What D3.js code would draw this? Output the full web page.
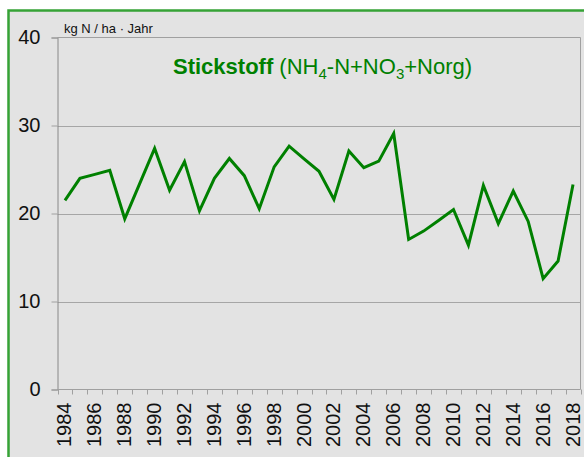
<!DOCTYPE html>
<html>
<head>
<meta charset="utf-8">
<script src="https://cdn.jsdelivr.net/npm/d3@7"></script>
<style>
  html, body { margin: 0; padding: 0; background: #ffffff; }
  svg { display: block; font-family: "Liberation Sans", Arial, sans-serif; }
</style>
</head>
<body>
<svg id="chart" width="584" height="457"></svg>
<script>
// Annual nitrogen deposition, kg N per hectare and year
const years = [1984, 1985, 1986, 1987, 1988, 1989, 1990, 1991, 1992, 1993,
               1994, 1995, 1996, 1997, 1998, 1999, 2000, 2001, 2002, 2003,
               2004, 2005, 2006, 2007, 2008, 2009, 2010, 2011, 2012, 2013,
               2014, 2015, 2016, 2017, 2018];
const nitrogen = [21.5, 24.0, 24.45, 24.9, 19.4, 23.4, 27.4, 22.65, 25.9, 20.3,
                  24.0, 26.25, 24.3, 20.55, 25.3, 27.65, 26.2, 24.8, 21.6, 27.1,
                  25.2, 25.95, 29.1, 17.05, 18.0, 19.2, 20.45, 16.4, 23.2, 18.85,
                  22.55, 19.1, 12.6, 14.6, 23.3];
const yTicks = [0, 10, 20, 30, 40];
const xLabelYears = [1984, 1986, 1988, 1990, 1992, 1994, 1996, 1998, 2000, 2002,
                     2004, 2006, 2008, 2010, 2012, 2014, 2016, 2018];

const svg = d3.select("#chart");
const W = 584, H = 457;
const plot = { left: 57.5, top: 37.5, right: 580.5, bottom: 389.5 };
const green = "#008000";

// Framed panel
svg.append("rect")
  .attr("x", 8.5).attr("y", 10.5)
  .attr("width", 600).attr("height", 480)
  .attr("fill", "#e3e3e3")
  .attr("stroke", "#36a336").attr("stroke-width", 2.5);

const x = d3.scaleBand().domain(years).range([plot.left, plot.right]).padding(0);
const y = d3.scaleLinear().domain([0, 40]).range([plot.bottom, plot.top]);

// Horizontal grid lines
svg.append("g").selectAll("line")
  .data(yTicks.filter(t => t > 0 && t < 40))
  .join("line")
  .attr("x1", plot.left).attr("x2", plot.right)
  .attr("y1", d => Math.round(y(d)) + 0.5).attr("y2", d => Math.round(y(d)) + 0.5)
  .attr("stroke", "#a6a6a6").attr("stroke-width", 1);

// Plot frame (top, right)
svg.append("path")
  .attr("d", `M${plot.left},${plot.top}H${plot.right}V${plot.bottom}`)
  .attr("fill", "none").attr("stroke", "#a0a0a0").attr("stroke-width", 1);

// Y axis
const yAxis = d3.axisLeft(y).tickValues(yTicks).tickSize(6).tickPadding(11);
const gy = svg.append("g").attr("transform", `translate(${plot.left},0)`).call(yAxis);
gy.select(".domain").attr("stroke", "#888888");
gy.selectAll(".tick line").attr("stroke", "#a0a0a0");
gy.selectAll(".tick text")
  .attr("font-size", 20).attr("fill", "#111").attr("font-family", "Liberation Sans, Arial, sans-serif");

// X axis: ticks at category boundaries
const gx = svg.append("g");
gx.append("line")
  .attr("x1", plot.left).attr("x2", plot.right)
  .attr("y1", plot.bottom).attr("y2", plot.bottom)
  .attr("stroke", "#a0a0a0");
gx.selectAll("line.tk")
  .data(years.concat([null]))
  .join("line").attr("class", "tk")
  .attr("x1", (d, i) => Math.round(plot.left + i * x.step()) + 0.5)
  .attr("x2", (d, i) => Math.round(plot.left + i * x.step()) + 0.5)
  .attr("y1", plot.bottom).attr("y2", plot.bottom + 5)
  .attr("stroke", "#a0a0a0");
gx.selectAll("text")
  .data(xLabelYears)
  .join("text")
  .attr("transform", d => `translate(${x(d) + x.bandwidth() / 2 + 6.5},${plot.bottom + 13}) rotate(-90)`)
  .attr("text-anchor", "end")
  .attr("font-size", 20).attr("fill", "#111")
  .text(d => d);

// Data line
const line = d3.line()
  .x((d, i) => x(years[i]) + x.bandwidth() / 2)
  .y(d => y(d));
svg.append("path")
  .datum(nitrogen)
  .attr("d", line)
  .attr("fill", "none")
  .attr("stroke", green).attr("stroke-width", 3)
  .attr("stroke-linejoin", "miter");

// Unit label
svg.append("text")
  .attr("x", 64).attr("y", 33)
  .attr("font-size", 13).attr("fill", "#111")
  .text("kg N / ha · Jahr");

// Title
const title = svg.append("text")
  .attr("x", 173).attr("y", 74)
  .attr("font-size", 22).attr("fill", green);
title.append("tspan").attr("font-weight", "bold").text("Stickstoff");
title.append("tspan").text(" (NH");
title.append("tspan").attr("font-size", 15).attr("dy", 5).text("4");
title.append("tspan").attr("dy", -5).text("-N+NO");
title.append("tspan").attr("font-size", 15).attr("dy", 5).text("3");
title.append("tspan").attr("dy", -5).text("+Norg)");
</script>
</body>
</html>
